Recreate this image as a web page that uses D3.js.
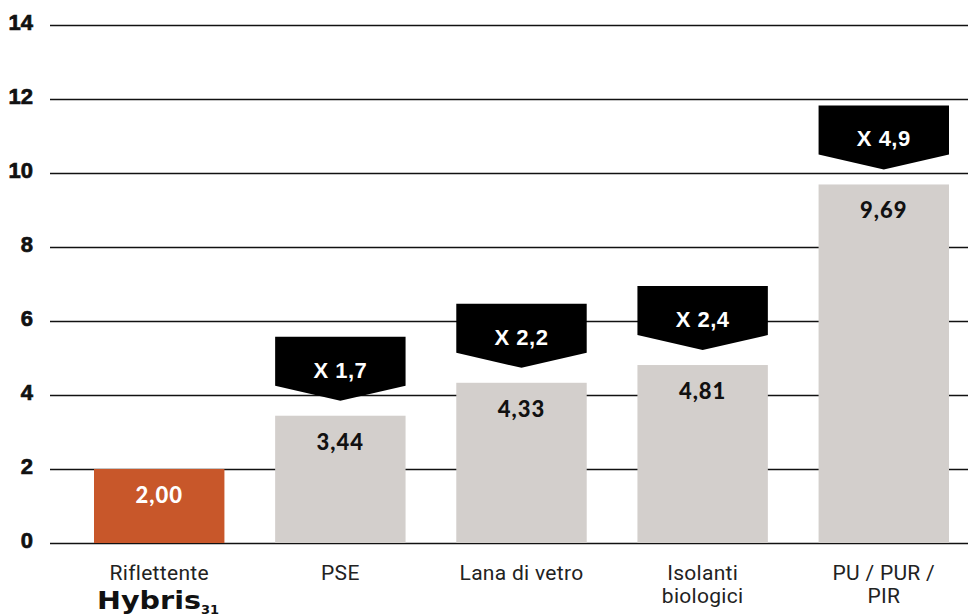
<!DOCTYPE html>
<html>
<head>
<meta charset="utf-8">
<script src="https://cdn.jsdelivr.net/npm/d3@7/dist/d3.min.js"></script>
<style>
  html, body { margin: 0; padding: 0; background: #fff; }
  svg { display: block; }
</style>
</head>
<body>
<svg id="chart" width="968" height="616"></svg>
<script>
// Categories (multi-line labels), values and ratios vs. the reflective product
const categories = ["Riflettente", "PSE", "Lana di vetro", "Isolanti biologici", "PU / PUR / PIR"];
const categoryLines = [["Riflettente"], ["PSE"], ["Lana di vetro"], ["Isolanti", "biologici"], ["PU / PUR /", "PIR"]];
const values = [2.00, 3.44, 4.33, 4.81, 9.69];
const valueLabels = ["2,00", "3,44", "4,33", "4,81", "9,69"];
const ratioLabels = [null, "X 1,7", "X 2,2", "X 2,4", "X 4,9"];
const yTicks = [0, 2, 4, 6, 8, 10, 12, 14];

const svg = d3.select("#chart");

const y = d3.scaleLinear().domain([0, 14]).range([543, 25]);
const x = d3.scaleBand().domain(categories).range([94, 949]).paddingInner(0.28).paddingOuter(0);

// Grid lines with tick labels
const yAxis = d3.axisLeft(y).tickValues(yTicks).tickSize(-918).tickPadding(17).tickFormat(d3.format("d"));
const gy = svg.append("g").attr("transform", "translate(50,0)").call(yAxis);
gy.select(".domain").remove();
gy.selectAll(".tick line").attr("stroke", "#111").attr("stroke-width", 1.3);
gy.selectAll(".tick text")
  .attr("fill", "#111")
  .attr("stroke", "#111")
  .attr("stroke-width", 0.7)
  .attr("dy", 4)
  .style("font-family", "'Liberation Sans', Arial, sans-serif")
  .style("font-weight", "700")
  .style("font-size", "22px");

// Bars
svg.append("g").selectAll("rect")
  .data(categories)
  .join("rect")
  .attr("x", d => x(d))
  .attr("width", x.bandwidth())
  .attr("y", (d, i) => y(values[i]))
  .attr("height", (d, i) => y(0) - y(values[i]))
  .attr("fill", (d, i) => i === 0 ? "#C8572A" : "#D3CFCC");

// Value labels inside bars
svg.append("g").selectAll("text")
  .data(categories)
  .join("text")
  .attr("x", d => x(d) + x.bandwidth() / 2)
  .attr("y", (d, i) => y(values[i]) + 34)
  .attr("text-anchor", "middle")
  .attr("fill", (d, i) => i === 0 ? "#fff" : "#111")
  .attr("letter-spacing", 1)
  .style("font-family", "Lato, 'Open Sans', sans-serif")
  .style("font-weight", "900")
  .style("font-size", "22px")
  .text((d, i) => valueLabels[i]);

// Ratio badges: black banner with a pointed bottom
const rectH = 49, tipH = 15, gap = 15;
const badges = svg.append("g").selectAll("g")
  .data(categories.map((c, i) => ({ c, i })).filter(d => ratioLabels[d.i]))
  .join("g")
  .attr("transform", d => `translate(${x(d.c)},${y(values[d.i]) - gap - tipH - rectH})`);

badges.append("path")
  .attr("d", () => {
    const w = x.bandwidth();
    return `M0,0 H${w} V${rectH} L${w / 2},${rectH + tipH} L0,${rectH} Z`;
  })
  .attr("fill", "#000");

badges.append("text")
  .attr("x", x.bandwidth() / 2)
  .attr("y", 41)
  .attr("text-anchor", "middle")
  .attr("fill", "#fff")
  .attr("letter-spacing", 0.5)
  .style("font-family", "'Liberation Sans', Arial, sans-serif")
  .style("font-weight", "700")
  .style("font-size", "22px")
  .text(d => ratioLabels[d.i]);

// Category labels
const xl = svg.append("g").selectAll("text")
  .data(categories)
  .join("text")
  .attr("x", d => x(d) + x.bandwidth() / 2)
  .attr("y", 580)
  .attr("text-anchor", "middle")
  .attr("fill", "#222")
  .attr("letter-spacing", 0.3)
  .style("font-family", "Roboto, sans-serif")
  .style("font-size", "21px");
xl.selectAll("tspan")
  .data((d, i) => categoryLines[i])
  .join("tspan")
  .attr("x", function () { return d3.select(this.parentNode).attr("x"); })
  .attr("dy", (d, j) => j === 0 ? 0 : 23)
  .text(d => d);

// Product wordmark under the first category
const logoX = x(categories[0]) + 3;
const logo = svg.append("text")
  .attr("x", logoX)
  .attr("y", 609)
  .attr("fill", "#111")
  .style("font-family", "'DejaVu Sans', sans-serif")
  .style("font-weight", "700");
logo.append("tspan")
  .style("font-size", "25px")
  .attr("textLength", 104)
  .attr("lengthAdjust", "spacingAndGlyphs")
  .text("Hybris");
logo.append("tspan").style("font-size", "13px").attr("dy", 5).text("31");
</script>
</body>
</html>
